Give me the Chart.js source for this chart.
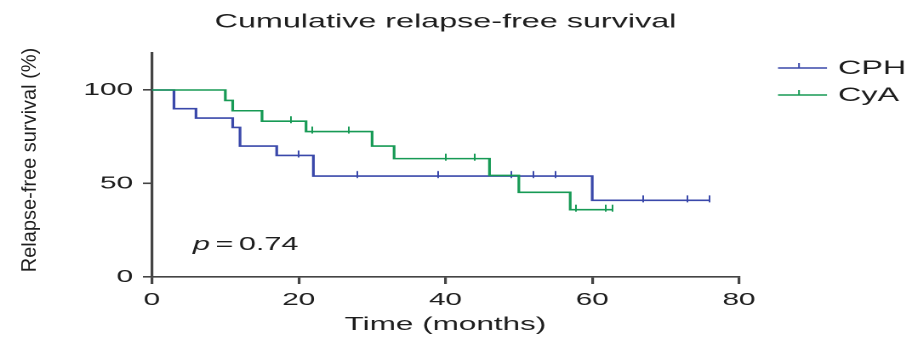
<!DOCTYPE html>
<html>
<head>
<meta charset="utf-8">
<script src="https://cdn.jsdelivr.net/npm/chart.js@4/dist/chart.umd.min.js"></script>
<style>
  html, body { margin: 0; padding: 0; background: #fff; overflow: hidden; }
  /* the source figure is stretched sideways, so the canvas is too */
  #chart { display: block; transform: scaleX(1.7015); transform-origin: 0 0; }
</style>
</head>
<body>
<canvas id="chart" width="536" height="338"></canvas>
<script>
const STRETCH = 1.7015;

const xTicks = [0, 20, 40, 60, 80];
const yTicks = [0, 50, 100];

// Kaplan-Meier steps
const cphTimes = [0, 3, 6, 11, 12, 17, 22, 60, 76];
const cphSurv = [100, 90, 85, 80, 70, 65, 54, 41, 41];
const cphCensorTimes = [20, 28, 39, 49, 52, 55, 67, 73, 76];
const cphCensorSurv = [65, 54, 54, 54, 54, 54, 41, 41, 41];

const cyaTimes = [0, 10, 11, 15, 21, 30, 33, 46, 50, 57, 62.8];
const cyaSurv = [100, 94.4, 88.9, 83.3, 77.8, 70, 63.3, 54.3, 45.3, 36, 36];
const cyaCensorTimes = [19, 21.8, 26.8, 40, 44, 57.8, 61.9, 62.8];
const cyaCensorSurv = [83.3, 77.8, 77.8, 63.3, 63.3, 36, 36, 36];

const seriesNames = ['CPH', 'CyA'];
const blue = '#3a48aa';
const green = '#179a55';
const ink = '#1e1e1e';
const axisColor = '#444';
const fontFamily = '"Liberation Sans", Arial, sans-serif';

const toPoints = (xs, ys) => xs.map((x, i) => ({ x: x, y: ys[i] }));

// small upward tick used as the censor mark
function censorMark(color) {
    const c = document.createElement('canvas');
    c.width = 1;
    c.height = 12;
    const g = c.getContext('2d');
    g.fillStyle = color;
    g.fillRect(0, 1, 1, 7);
    return c;
}

const extras = {
    id: 'extras',
    afterDraw(chart) {
        const ctx = chart.ctx;
        const area = chart.chartArea;
        ctx.save();
        ctx.fillStyle = ink;

        // title
        ctx.font = '19px ' + fontFamily;
        ctx.textAlign = 'center';
        ctx.textBaseline = 'alphabetic';
        ctx.fillText('Cumulative relapse-free survival', (area.left + area.right) / 2, 27.5);

        // y title, kept un-stretched
        ctx.save();
        ctx.translate(30 / STRETCH, 160);
        ctx.scale(1 / STRETCH, 1);
        ctx.rotate(-Math.PI / 2);
        ctx.font = '20px ' + fontFamily;
        ctx.textBaseline = 'middle';
        ctx.fillText('Relapse-free survival (%)', 0, 0);
        ctx.restore();

        // p value
        ctx.textAlign = 'left';
        let px = 193 / STRETCH;
        ctx.font = 'italic 18px ' + fontFamily;
        ctx.fillText('p', px, 250);
        px += ctx.measureText('p').width + 3.2;
        ctx.font = '18px ' + fontFamily;
        ctx.fillText('=', px, 250);
        px += ctx.measureText('=').width + 3.2;
        ctx.fillText('0.74', px, 250);

        // legend
        const colors = [blue, green];
        const rows = [68, 95];
        const x0 = 778 / STRETCH, x1 = 827 / STRETCH, xm = 799 / STRETCH;
        ctx.font = '19px ' + fontFamily;
        ctx.textBaseline = 'middle';
        seriesNames.forEach((name, i) => {
            const y = rows[i];
            ctx.strokeStyle = colors[i];
            ctx.lineWidth = 1.6;
            ctx.beginPath();
            ctx.moveTo(x0, y);
            ctx.lineTo(x1, y);
            ctx.stroke();
            ctx.lineWidth = 1;
            ctx.beginPath();
            ctx.moveTo(xm, y);
            ctx.lineTo(xm, y - 5);
            ctx.stroke();
            ctx.fillStyle = ink;
            ctx.fillText(name, 838 / STRETCH, y + 1);
        });
        ctx.restore();
    }
};

new Chart(document.getElementById('chart'), {
    type: 'scatter',
    data: {
        datasets: [
            {
                label: 'CyA',
                data: toPoints(cyaTimes, cyaSurv),
                showLine: true,
                stepped: true,
                borderColor: green,
                borderWidth: 1.6,
                pointRadius: 0
            },
            {
                label: 'CyA censored',
                data: toPoints(cyaCensorTimes, cyaCensorSurv),
                pointStyle: censorMark(green),
                pointRadius: 6
            },
            {
                label: 'CPH',
                data: toPoints(cphTimes, cphSurv),
                showLine: true,
                stepped: true,
                borderColor: blue,
                borderWidth: 1.6,
                pointRadius: 0
            },
            {
                label: 'CPH censored',
                data: toPoints(cphCensorTimes, cphCensorSurv),
                pointStyle: censorMark(blue),
                pointRadius: 6
            }
        ]
    },
    options: {
        responsive: false,
        devicePixelRatio: 2,
        animation: false,
        layout: { padding: { top: 52.6, right: 101.7, left: 0, bottom: 0 } },
        plugins: {
            legend: { display: false },
            tooltip: { enabled: false },
            title: { display: false }
        },
        scales: {
            x: {
                type: 'linear',
                min: 0,
                max: 80,
                afterBuildTicks: (s) => { s.ticks = xTicks.map(v => ({ value: v })); },
                afterFit: (s) => { s.height = 61; },
                ticks: { color: ink, padding: 5.5, maxRotation: 0, font: { size: 17.5, family: fontFamily } },
                grid: { drawOnChartArea: false, drawTicks: true, tickLength: 7, color: axisColor, lineWidth: 1.6 },
                border: { display: true, color: axisColor, width: 1.6 },
                title: {
                    display: true,
                    text: 'Time (months)',
                    color: ink,
                    padding: { top: 0, bottom: 2 },
                    font: { size: 18.5, family: fontFamily }
                }
            },
            y: {
                min: 0,
                max: 120,
                afterBuildTicks: (s) => { s.ticks = yTicks.map(v => ({ value: v })); },
                afterFit: (s) => { s.width = 89.3; },
                ticks: { color: ink, padding: 5.8, font: { size: 17.5, family: fontFamily } },
                grid: { drawOnChartArea: false, drawTicks: true, tickLength: 5.3, color: axisColor, lineWidth: 1.6 },
                border: { display: true, color: axisColor, width: 1.6 }
            }
        }
    },
    plugins: [extras]
});
</script>
</body>
</html>
